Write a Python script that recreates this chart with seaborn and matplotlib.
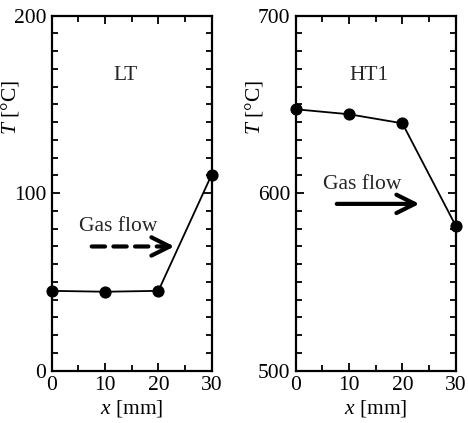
import matplotlib
matplotlib.use("Agg")
import matplotlib.pyplot as plt
import seaborn as sns
import pandas as pd
from matplotlib.ticker import MultipleLocator

sns.set_theme(style="ticks")
plt.rcParams['font.family'] = ['Liberation Serif', 'DejaVu Serif']
plt.rcParams['mathtext.fontset'] = 'custom'
plt.rcParams['mathtext.rm'] = 'Liberation Serif'
plt.rcParams['mathtext.it'] = 'Liberation Serif:italic'

# Data
x_mm = [0, 10, 20, 30]
T_LT = [45.0, 44.5, 45.0, 110.5]
T_HT1 = [647.3, 644.5, 639.4, 581.7]
panel_names = ["LT", "HT1"]
ylims = [(0, 200), (500, 700)]
yticks = [[0, 100, 200], [500, 600, 700]]
xticks = [0, 10, 20, 30]

fig = plt.figure(figsize=(4.68, 4.23), dpi=100)
ax1 = fig.add_axes([0.1105, 0.1236, 0.3419, 0.8392])
ax2 = fig.add_axes([0.6318, 0.1236, 0.3419, 0.8392])

fs = 15.5
for ax, T, name, yl, yt in [
        (ax1, T_LT, panel_names[0], ylims[0], yticks[0]),
        (ax2, T_HT1, panel_names[1], ylims[1], yticks[1])]:
    df = pd.DataFrame({"x": x_mm, "T": T})
    sns.lineplot(data=df, x="x", y="T", ax=ax, color="black", linewidth=1.3,
                 marker="o", markersize=8, markeredgecolor="black",
                 markerfacecolor="black", clip_on=False, zorder=5)
    ax.set_xlim(0, 30)
    ax.set_ylim(*yl)
    ax.set_xticks(xticks)
    ax.set_yticks(yt)
    ax.xaxis.set_minor_locator(MultipleLocator(5))
    ax.yaxis.set_minor_locator(MultipleLocator(10))
    ax.tick_params(which="both", direction="in", top=True, right=True,
                   labelsize=fs, colors="black", width=1.3)
    ax.tick_params(which="major", length=6, pad=4)
    ax.tick_params(which="minor", length=4)
    for sp in ax.spines.values():
        sp.set_linewidth(1.6)
        sp.set_color("black")
    ax.set_xlabel("$x$ [mm]", fontsize=fs, labelpad=2, color="black")
    ax.set_ylabel("$T$ [°C]", fontsize=fs, color="black")
    ax.yaxis.set_label_coords(-0.19, 0.74)
    ymin, ymax = yl
    span = ymax - ymin
    ax.text(13.8, ymin + 0.833 * span, name, fontsize=fs, ha="center", va="center")

head = "->,head_length=1.1,head_width=0.55"
# LT: dashed shaft + solid head
ax1.text(12.5, 81, "Gas flow", fontsize=fs, ha="center", va="center")
ax1.annotate("", xy=(21.5, 70), xytext=(7.5, 70),
             arrowprops=dict(arrowstyle="-", linestyle=(0, (3.2, 2.0)), lw=3,
                             color="black", shrinkA=0, shrinkB=0))
ax1.annotate("", xy=(23.0, 70), xytext=(20.5, 70),
             arrowprops=dict(arrowstyle=head, lw=3, color="black",
                             shrinkA=0, shrinkB=0))
# HT1: solid arrow
ax2.text(12.4, 605, "Gas flow", fontsize=fs, ha="center", va="center")
ax2.annotate("", xy=(23.2, 594), xytext=(7.7, 594),
             arrowprops=dict(arrowstyle=head, lw=3, color="black",
                             shrinkA=0, shrinkB=0))

fig.savefig("out.png", dpi=100)
